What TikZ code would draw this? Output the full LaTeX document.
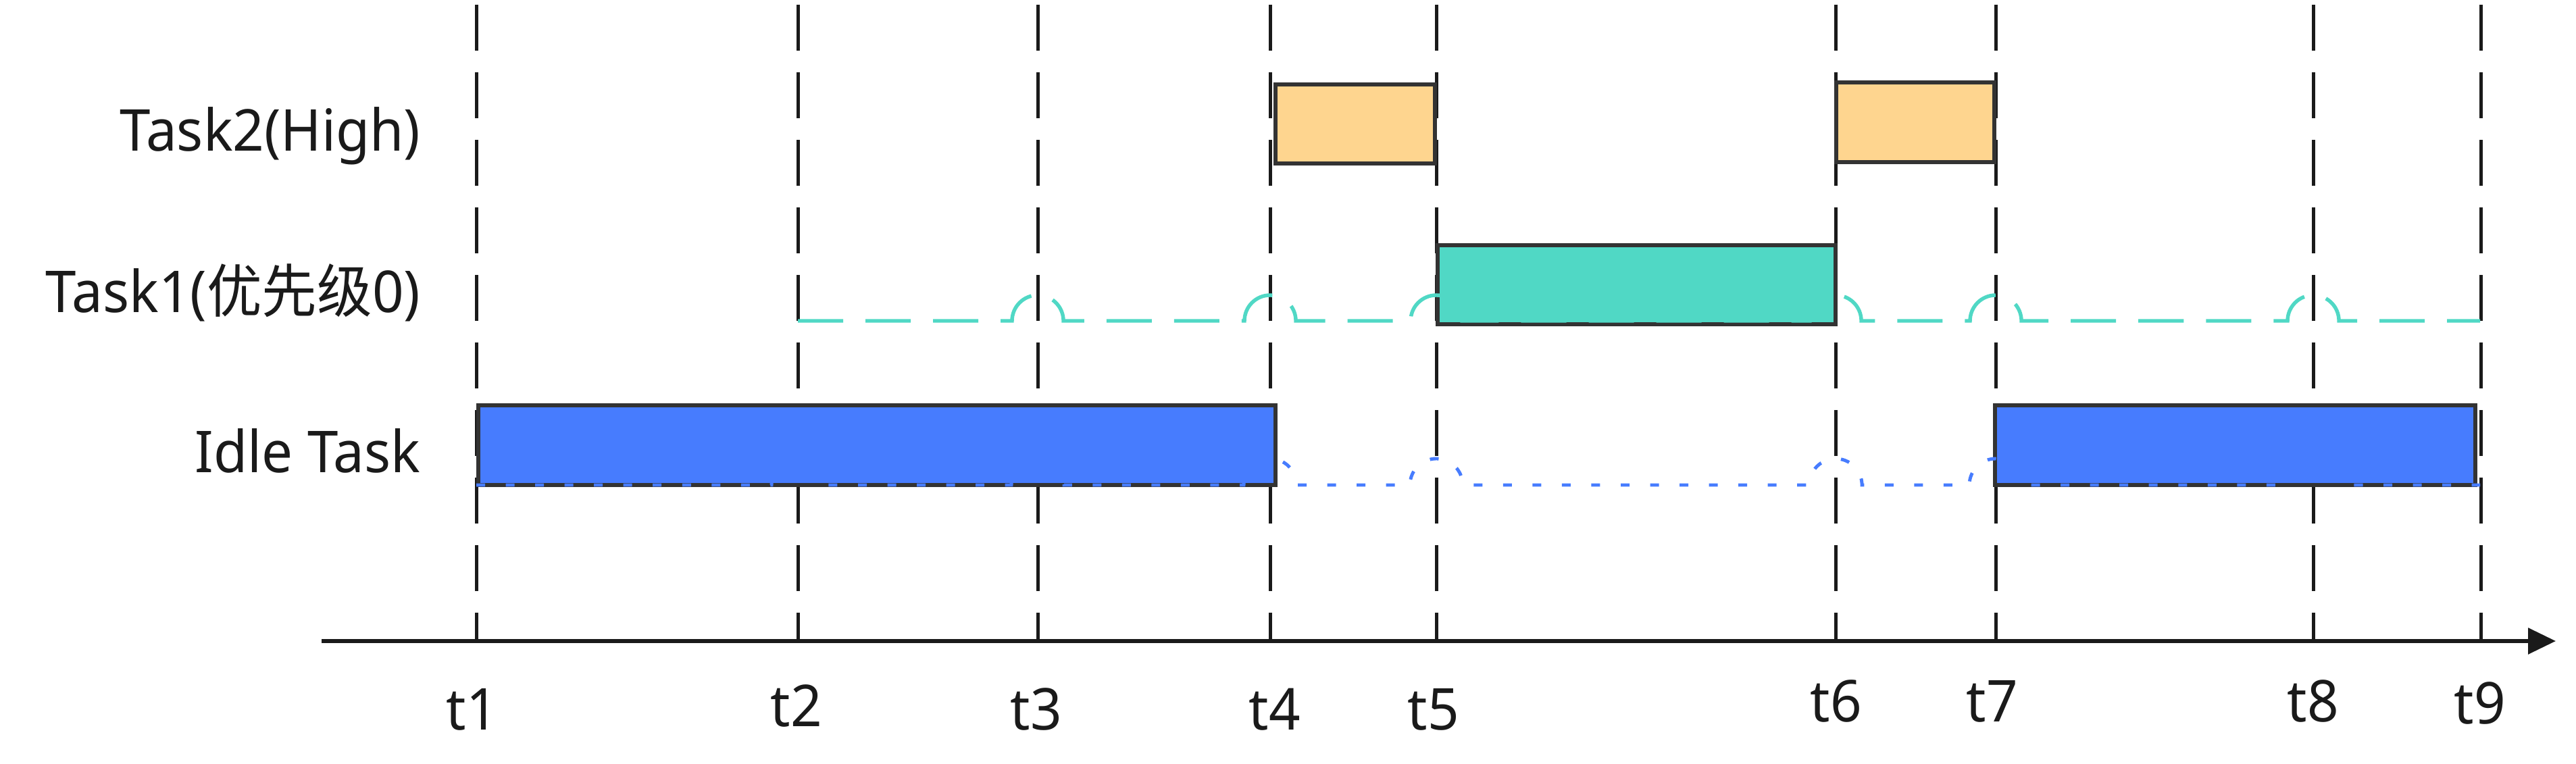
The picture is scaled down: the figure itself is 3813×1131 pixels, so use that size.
\documentclass[tikz,border=0pt]{standalone}
\usepackage{fontspec}
\setmainfont{Noto Sans}
\newfontfamily\cjk{Noto Sans CJK SC}
\usetikzlibrary{arrows.meta}
\definecolor{orangefill}{HTML}{FED58F}
\definecolor{tealfill}{HTML}{50D8C5}
\definecolor{bluefill}{HTML}{477CFE}
\definecolor{edgecol}{HTML}{333333}
\definecolor{ink}{HTML}{1A1A1A}
\begin{document}
\begin{tikzpicture}[x=0.01cm,y=-0.01cm,
  gridline/.style={draw=ink, line width=1.42pt, dash pattern=on 19.35pt off 9.1pt},
  bar/.style={draw=edgecol, line width=1.65pt, inner sep=0pt, outer sep=0pt},
  hi/.style={bar, fill=orangefill},
  mid/.style={bar, fill=tealfill},
  idle/.style={bar, fill=bluefill},
  tealline/.style={draw=tealfill, line width=1.55pt, dash pattern=on 19.06pt off 9.39pt},
  blueline/.style={draw=bluefill, line width=1.4pt, dash pattern=on 3.7pt off 8.68pt},
  axisline/.style={draw=ink, line width=1.7pt, -{Triangle[length=0.41cm,width=0.38cm]}},
  lbl/.style={font=\fontsize{24.3pt}{29pt}\selectfont, inner sep=0pt, text=ink, xscale=0.955, transform shape}
]
\useasboundingbox (0,0) rectangle (3813,1131);

% vertical time lines
\foreach \i/\x in {1/705,2/1181,3/1536,4/1880,5/2126,6/2717,7/2954,8/3424,9/3672}{
  \coordinate (v\i top) at (\x,7);
  \coordinate (v\i bot) at (\x,949);
  \draw[gridline] (v\i top) -- (v\i bot);
}

% boxes
\node[hi, minimum width=2.36cm, minimum height=1.17cm] (h1) at (2006,183.5) {};
\node[hi, minimum width=2.34cm, minimum height=1.18cm] (h2) at (2835,181) {};
\node[mid, minimum width=5.89cm, minimum height=1.17cm] (m1) at (2422.5,421.5) {};
\node[idle, minimum width=11.80cm, minimum height=1.18cm] (i1) at (1298,659) {};
\node[idle, minimum width=7.11cm, minimum height=1.18cm] (i2) at (3308.5,659) {};

% Task1 waiting line with hops
\coordinate (ta) at (1181,475);
\coordinate (tb) at (3671,475);
\draw[tealline] (ta) -- (1498,475) arc[start angle=180,end angle=0,radius=0.38cm]
  -- (1842,475) arc[start angle=180,end angle=0,radius=0.38cm]
  -- (2088,475) arc[start angle=180,end angle=0,radius=0.38cm]
  -- (2679,475) arc[start angle=180,end angle=0,radius=0.38cm]
  -- (2916,475) arc[start angle=180,end angle=0,radius=0.38cm]
  -- (3386,475) arc[start angle=180,end angle=0,radius=0.38cm]
  -- (tb);

% Idle waiting line with hops
\coordinate (ba) at (705,718);
\coordinate (bb) at (3671,718);
\draw[blueline] (ba) -- (1142,718) arc[start angle=180,end angle=0,radius=0.39cm]
  -- (1497,718) arc[start angle=180,end angle=0,radius=0.39cm]
  -- (1841,718) arc[start angle=180,end angle=0,radius=0.39cm]
  -- (2087,718) arc[start angle=180,end angle=0,radius=0.39cm]
  -- (2678,718) arc[start angle=180,end angle=0,radius=0.39cm]
  -- (2915,718) arc[start angle=180,end angle=0,radius=0.39cm]
  -- (3385,718) arc[start angle=180,end angle=0,radius=0.39cm]
  -- (bb);

% time axis
\coordinate (ax0) at (476,949);
\coordinate (ax1) at (3783,949);
\draw[axisline] (ax0) -- (ax1);

% time labels
\node[lbl, anchor=base] (l1) at (699,1080) {t1};
\node[lbl, anchor=base] (l2) at (1179,1075) {t2};
\node[lbl, anchor=base] (l3) at (1534,1080) {t3};
\node[lbl, anchor=base] (l4) at (1887,1080) {t4};
\node[lbl, anchor=base] (l5) at (2122,1080) {t5};
\node[lbl, anchor=base] (l6) at (2718,1068) {t6};
\node[lbl, anchor=base] (l7) at (2949,1068) {t7};
\node[lbl, anchor=base] (l8) at (3424,1068) {t8};
\node[lbl, anchor=base] (l9) at (3671,1071) {t9};

% row labels
\node[lbl, anchor=base east] (n2) at (623,224) {Task2(High)};
\node[lbl, anchor=base east] (n1) at (623,463) {Task1({\cjk 优先级}0)};
\node[lbl, anchor=base east] (n0) at (623,699) {Idle Task};
\end{tikzpicture}
\end{document}
